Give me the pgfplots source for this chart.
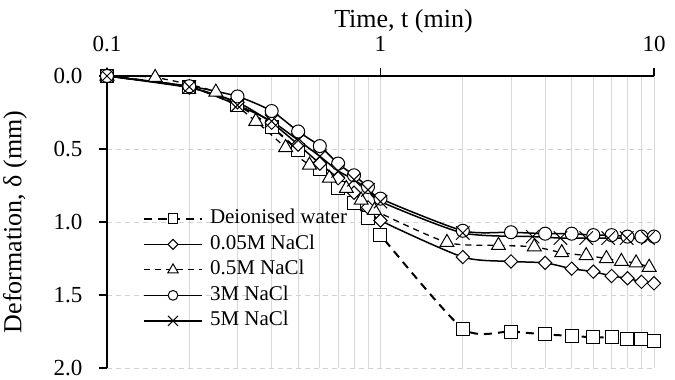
\documentclass[border=0pt]{standalone}
\usepackage{pgfplots}
\pgfplotsset{compat=1.18}
\usepackage{fontspec}
\setmainfont{Liberation Serif}
\begin{document}
\begin{tikzpicture}
\begin{axis}[
  scale only axis, width=547pt, height=292pt,
  xmode=log, xmin=0.1, xmax=10,
  ymin=0, ymax=2, y dir=reverse,
  axis x line*=top, axis y line*=left,
  axis line style={line width=1.2pt, -},
  xtick={0.1,1,10}, xticklabels={0.1,1,10},
  ytick={0,0.5,1,1.5,2},
  /pgf/number format/assume math mode=true,
  tick align=outside, major tick length=8pt, minor tick length=0pt,
  tick style={line width=1.2pt, black},
  xminorgrids, xmajorgrids, ymajorgrids,
  x grid style={line width=0.9pt, gray!30},
  y grid style={line width=0.9pt, gray!35, dash pattern=on 5pt off 4pt},
  tick label style={font=\fontsize{23}{27}\selectfont},
  xticklabel style={anchor=center, yshift=24pt},
  yticklabel style={anchor=east, xshift=-13pt, /pgf/number format/.cd, fixed, fixed zerofill, precision=1},
  label style={font=\fontsize{26}{30}\selectfont},
  ylabel={Deformation, δ (mm)},
  ylabel style={at={(axis description cs:-0.168,0.5)}, anchor=center},
  every axis plot/.append style={black},
  legend cell align=left,
  legend image code/.code={\draw[mark repeat=2,mark phase=2,#1, every mark/.append style={scale=0.75}] plot coordinates {(0pt,0pt) (29pt,0pt) (58pt,0pt)};},
  legend style={draw=none, fill=none, at={(axis description cs:0.06,0.562)}, anchor=north west,
    font=\fontsize{21}{25}\selectfont, nodes={text height=14.5pt, text depth=5pt, inner ysep=3pt},
    /tikz/every odd column/.append style={column sep=5pt}},
]
\addplot[line width=2pt, dash pattern=on 8pt off 6pt, smooth, tension=0.4, mark=square*, mark size=6.5pt, mark options={solid, fill=white, line width=1pt}] coordinates {
(0.1,0) (0.2,0.075) (0.3,0.2) (0.4,0.35) (0.5,0.51) (0.6,0.64) (0.7,0.77) (0.8,0.87) (0.9,0.97) (1,1.09)
(2,1.73) (3,1.75) (4,1.77) (5,1.78) (6,1.79) (7,1.79) (8,1.80) (9,1.80) (10,1.815)};
\addlegendentry{Deionised water}
\addplot[line width=1.5pt, smooth, tension=0.4, mark=square*, mark size=4.7pt, mark options={solid, fill=white, line width=1pt, rotate=45}] coordinates {
(0.1,0) (0.2,0.08) (0.3,0.18) (0.4,0.32) (0.5,0.47) (0.6,0.60) (0.7,0.70) (0.8,0.80) (0.9,0.90) (1,0.99)
(2,1.24) (3,1.27) (4,1.28) (5,1.32) (6,1.34) (7,1.37) (8,1.385) (9,1.41) (10,1.42)};
\addlegendentry{0.05M NaCl}
\addplot[line width=1.3pt, dash pattern=on 6pt off 5pt, smooth, tension=0.4, mark=triangle*, mark size=8pt, mark options={solid, fill=white, line width=1pt}] coordinates {
(0.1,0) (0.15,0.01) (0.25,0.11) (0.35,0.31) (0.45,0.49) (0.55,0.61) (0.65,0.70) (0.75,0.77) (0.85,0.85) (0.95,0.92)
(1.75,1.14) (2.7,1.16) (3.65,1.17) (4.6,1.21) (5.65,1.23) (6.7,1.25) (7.6,1.27) (8.6,1.28) (9.6,1.31)};
\addlegendentry{0.5M NaCl}
\addplot[line width=1.5pt, smooth, tension=0.4, mark=*, mark size=6.5pt, mark options={solid, fill=white, line width=1pt}] coordinates {
(0.1,0) (0.2,0.07) (0.3,0.14) (0.4,0.24) (0.5,0.38) (0.6,0.48) (0.7,0.60) (0.8,0.68) (0.9,0.76) (1,0.84)
(2,1.06) (3,1.07) (4,1.08) (5,1.08) (6,1.09) (7,1.09) (8,1.10) (9,1.10) (10,1.10)};
\addlegendentry{3M NaCl}
\addplot[line width=1.5pt, smooth, tension=0.4, mark=x, mark size=9.5pt, mark options={solid, line width=1pt}] coordinates {
(0.1,0) (0.2,0.075) (0.3,0.2) (0.4,0.31) (0.5,0.44) (0.6,0.55) (0.7,0.65) (0.8,0.71) (0.9,0.78) (1,0.86)
(2,1.075) (3.6,1.10) (4.55,1.11) (5.65,1.11) (6.8,1.11) (7.95,1.11) (9.5,1.11)};
\addlegendentry{5M NaCl}
\coordinate (TL) at (axis cs:0.1,0);
\coordinate (BR) at (axis cs:10,2);
\coordinate (TC) at (axis description cs:0.542,1);
\end{axis}
\node[font=\fontsize{26}{30}\selectfont, anchor=base, inner sep=0pt] at ([yshift=48pt]TC) {Time, t (min)};
\pgfresetboundingbox
\path[use as bounding box] ([shift={(-107pt,76pt)}]TL) rectangle ([shift={(21pt,-12pt)}]BR);
\end{tikzpicture}
\end{document}
